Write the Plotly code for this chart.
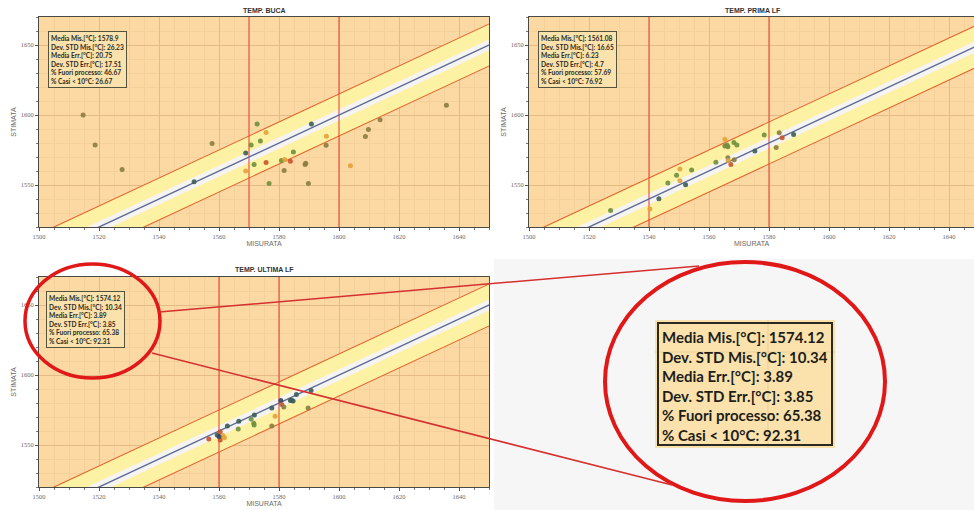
import plotly.graph_objects as go

W, H = 974, 510

# ---------------- data ----------------
X_RANGE = [1500, 1650]
Y_RANGE = [1520, 1670]
LINE_X = [1480, 1690]
BAND_INNER = 4
BAND_OUTER = 15

TITLES = ["TEMP. BUCA", "TEMP. PRIMA LF", "TEMP. ULTIMA LF"]
X_TICKS = [1500, 1520, 1540, 1560, 1580, 1600, 1620, 1640]
Y_TICKS = [1550, 1600, 1650]

PALETTE = {
    "T": "#3c5e55",  # dark teal
    "G": "#6e8f3c",  # green
    "O": "#8a7c40",  # olive-brown
    "Y": "#e3a23a",  # orange
    "R": "#c9532b",  # red-brown
    "N": "#2f475c",  # navy
}

buca_mis = [1514.7, 1518.7, 1527.7, 1551.7, 1557.7, 1568.9, 1568.9, 1570.7, 1572.7, 1571.7,
            1573.8, 1575.7, 1575.7, 1576.7, 1580.8, 1581.7, 1581.9, 1583.8, 1584.8, 1588.7,
            1589.8, 1590.8, 1595.8, 1595.7, 1603.8, 1608.8, 1609.8, 1613.7, 1635.8, 1588.9]
buca_sti = [1600.0, 1578.6, 1561.0, 1552.4, 1579.6, 1572.8, 1560.0, 1578.6, 1593.5, 1564.7,
            1581.5, 1587.5, 1566.0, 1551.0, 1567.5, 1560.3, 1568.3, 1567.0, 1573.6, 1564.7,
            1551.0, 1593.5, 1584.9, 1578.4, 1563.7, 1584.6, 1589.7, 1596.6, 1607.0, 1565.5]
buca_col = ["O", "O", "O", "T", "O", "T", "Y", "G", "G", "G",
            "G", "Y", "R", "G", "G", "O", "Y", "R", "G", "O",
            "O", "T", "Y", "O", "Y", "O", "O", "O", "O", "O"]

prima_mis = [1527.2, 1540.3, 1543.3, 1546.3, 1549.2, 1550.3, 1550.3, 1552.2, 1554.2, 1562.3,
             1565.3, 1565.3, 1566.3, 1566.3, 1566.4, 1567.3, 1568.4, 1568.3, 1569.3, 1575.3,
             1578.4, 1582.4, 1583.4, 1584.4, 1588.2, 1566.0]
prima_sti = [1531.7, 1532.9, 1540.1, 1551.4, 1557.0, 1561.5, 1553.1, 1550.2, 1560.8, 1566.3,
             1582.7, 1577.9, 1577.4, 1569.5, 1567.5, 1564.7, 1568.0, 1580.3, 1578.6, 1574.3,
             1585.8, 1576.7, 1587.3, 1583.7, 1586.0, 1578.5]
prima_col = ["G", "Y", "T", "G", "G", "Y", "Y", "T", "G", "G",
             "Y", "O", "G", "O", "Y", "R", "O", "G", "G", "T",
             "G", "O", "O", "R", "T", "G"]

ultima_mis = [1556.6, 1559.4, 1560.4, 1560.4, 1561.3, 1562.8, 1566.4, 1566.6, 1570.7, 1571.6,
              1571.7, 1571.8, 1577.6, 1577.6, 1578.7, 1580.6, 1580.9, 1581.6, 1583.8, 1584.7,
              1585.8, 1590.7, 1589.7, 1560.0, 1561.8, 1584.2]
ultima_sti = [1554.3, 1557.1, 1559.5, 1553.6, 1556.7, 1563.6, 1561.4, 1566.9, 1568.6, 1565.5,
              1564.3, 1571.4, 1576.4, 1563.6, 1570.5, 1581.7, 1579.0, 1577.1, 1581.7, 1581.4,
              1586.0, 1589.0, 1576.4, 1556.0, 1555.2, 1582.0]
ultima_col = ["R", "T", "R", "R", "Y", "T", "G", "T", "G", "G",
              "G", "T", "T", "O", "Y", "N", "R", "O", "T", "T",
              "T", "T", "O", "N", "Y", "T"]

VLINES = [[1570, 1600], [1540, 1580], [1560, 1580]]

STATS = [
    ["Media Mis.[°C]: 1578.9", "Dev. STD Mis.[°C]: 26.23", "Media Err.[°C]: 20.75",
     "Dev. STD Err.[°C]: 17.51", "% Fuori processo: 46.67", "% Casi &lt; 10°C: 26.67"],
    ["Media Mis.[°C]: 1561.08", "Dev. STD Mis.[°C]: 16.65", "Media Err.[°C]: 6.23",
     "Dev. STD Err.[°C]: 4.7", "% Fuori processo: 57.69", "% Casi &lt; 10°C: 76.92"],
    ["Media Mis.[°C]: 1574.12", "Dev. STD Mis.[°C]: 10.34", "Media Err.[°C]: 3.89",
     "Dev. STD Err.[°C]: 3.85", "% Fuori processo: 65.38", "% Casi &lt; 10°C: 92.31"],
]

SERIES = [(buca_mis, buca_sti, buca_col), (prima_mis, prima_sti, prima_col),
          (ultima_mis, ultima_sti, ultima_col)]


# ---------------- layout helpers ----------------
def px(x):
    return x / W


def py(y):
    return 1 - y / H


# plot areas in pixels: (left, right, top, bottom)
AREAS = [(39, 489, 17, 227), (529, 974, 17, 227), (39, 489, 277, 487)]

fig = go.Figure()

BG = "#fcd9a2"
YELLOW = "#fdf1a4"
WHITE = "#f6f4f1"
RED_DIAG = "#e3652f"
RED_V = "#e8473a"
BLUE = "#5c6a98"

for i, (mis, sti, col) in enumerate(SERIES):
    xa = "x" if i == 0 else f"x{i+1}"
    ya = "y" if i == 0 else f"y{i+1}"
    common = dict(xaxis=xa, yaxis=ya, showlegend=False, hoverinfo="skip")
    # outer yellow band
    fig.add_trace(go.Scatter(x=LINE_X, y=[v + BAND_OUTER for v in LINE_X], mode="lines",
                             line=dict(width=0), **common))
    fig.add_trace(go.Scatter(x=LINE_X, y=[v - BAND_OUTER for v in LINE_X], mode="lines",
                             line=dict(width=0), fill="tonexty", fillcolor=YELLOW, **common))
    # inner white band
    fig.add_trace(go.Scatter(x=LINE_X, y=[v + BAND_INNER for v in LINE_X], mode="lines",
                             line=dict(width=0), **common))
    fig.add_trace(go.Scatter(x=LINE_X, y=[v - BAND_INNER for v in LINE_X], mode="lines",
                             line=dict(width=0), fill="tonexty", fillcolor=WHITE, **common))
    # red diagonal limits
    for off in (BAND_OUTER, -BAND_OUTER):
        fig.add_trace(go.Scatter(x=LINE_X, y=[v + off for v in LINE_X], mode="lines",
                                 line=dict(width=1.1, color=RED_DIAG), **common))
    # vertical red lines
    for v in VLINES[i]:
        fig.add_trace(go.Scatter(x=[v, v], y=[Y_RANGE[0] - 10, Y_RANGE[1] + 10], mode="lines",
                                 line=dict(width=1.1, color=RED_V), **common))
    # identity line
    fig.add_trace(go.Scatter(x=LINE_X, y=LINE_X, mode="lines",
                             line=dict(width=1.4, color=BLUE), **common))
    # points
    fig.add_trace(go.Scatter(x=mis, y=sti, mode="markers",
                             marker=dict(size=5, color=[PALETTE[c] for c in col], opacity=0.9,
                                         line=dict(width=0)), **common))

axis_common = dict(
    showline=True, linecolor="#4a4a44", linewidth=1, mirror=True, automargin=False,
    ticks="outside", ticklen=3, tickcolor="#555", tickwidth=1,
    tickfont=dict(family="Liberation Serif", size=6.5, color="#6a6a6a"),
    showgrid=True, gridcolor="#e4bb85", gridwidth=1, zeroline=False,
)

for i, (l, r, t, b) in enumerate(AREAS):
    xk = "xaxis" if i == 0 else f"xaxis{i+1}"
    yk = "yaxis" if i == 0 else f"yaxis{i+1}"
    ya = "y" if i == 0 else f"y{i+1}"
    xa = "x" if i == 0 else f"x{i+1}"
    xr = [X_RANGE[0], X_RANGE[0] + (r - l) / 3.0]
    fig.update_layout(**{
        xk: dict(domain=[px(l), px(r)], range=xr, anchor=ya, tickvals=X_TICKS,
                 minor=dict(dtick=5, tick0=1500, ticks="outside", ticklen=2, tickcolor="#777",
                            showgrid=True, gridcolor="#f4d09a", gridwidth=1),
                 title=dict(text="MISURATA", standoff=2,
                            font=dict(family="Liberation Sans", size=7, color="#6a6a6a")),
                 **axis_common),
        yk: dict(domain=[py(b), py(t)], range=Y_RANGE, anchor=xa, tickvals=Y_TICKS,
                 minor=dict(dtick=10, tick0=1520, ticks="outside", ticklen=2, tickcolor="#777",
                            showgrid=True, gridcolor="#f4d09a", gridwidth=1),
                 title=dict(text="STIMATA", standoff=3,
                            font=dict(family="Liberation Sans", size=7, color="#6a6a6a")),
                 **axis_common),
    })

shapes = []
annotations = []

# grey background of the magnified area
shapes.append(dict(type="rect", xref="paper", yref="paper", x0=px(494), x1=px(974),
                   y0=py(510), y1=py(259), fillcolor="#f6f6f6", line=dict(width=0),
                   layer="below"))

# panel titles
TITLE_POS = [(264, 10), (753, 10), (264, 269)]
for i, (x, y) in enumerate(TITLE_POS):
    annotations.append(dict(text=f"<b>{TITLES[i]}</b>", x=px(x), y=py(y), xref="paper",
                            yref="paper", showarrow=False, xanchor="center", yanchor="middle",
                            font=dict(family="Liberation Sans", size=7, color="#333")))

# small stats boxes
BOX_POS = [(48, 31), (538, 31), (46, 291)]
for i, (x, y) in enumerate(BOX_POS):
    annotations.append(dict(text="<b>" + "<br>".join(STATS[i]) + "</b>", x=px(x), y=py(y),
                            xref="paper", yref="paper", showarrow=False, xanchor="left",
                            yanchor="top", align="left", bgcolor="#fbe2ad",
                            bordercolor="#54543e", borderwidth=1, borderpad=2,
                            font=dict(family="Lato", size=6.6, color="#2a2a20")))

# magnified stats box
shapes.append(dict(type="rect", xref="paper", yref="paper", x0=px(655), x1=px(835),
                   y0=py(448), y1=py(320), fillcolor="#fbe2ad", line=dict(width=0)))
shapes.append(dict(type="line", xref="paper", yref="paper", x0=px(768), x1=px(768),
                   y0=py(448), y1=py(320), line=dict(color="#e8cc96", width=1)))
shapes.append(dict(type="line", xref="paper", yref="paper", x0=px(655), x1=px(835),
                   y0=py(352), y1=py(352), line=dict(color="#e8cc96", width=1)))
shapes.append(dict(type="rect", xref="paper", yref="paper", x0=px(658), x1=px(832),
                   y0=py(445), y1=py(323), line=dict(color="#2a2a22", width=2)))
annotations.append(dict(text="<b>" + "<br>".join(STATS[2]) + "</b>", x=px(660), y=py(326),
                        xref="paper", yref="paper", showarrow=False, xanchor="left",
                        yanchor="top", align="left",
                        font=dict(family="Lato", size=15, color="#1e1e18")))

# zoom ellipses and connectors
shapes.append(dict(type="circle", xref="paper", yref="paper", x0=px(25), x1=px(160),
                   y0=py(378), y1=py(264), line=dict(color="#e01818", width=3.5)))
shapes.append(dict(type="circle", xref="paper", yref="paper", x0=px(605), x1=px(885),
                   y0=py(501), y1=py(262), line=dict(color="#e01818", width=4)))
shapes.append(dict(type="line", xref="paper", yref="paper", x0=px(159), x1=px(699),
                   y0=py(312), y1=py(266), line=dict(color="#d43030", width=1.5)))
shapes.append(dict(type="line", xref="paper", yref="paper", x0=px(152), x1=px(672),
                   y0=py(353), y1=py(485), line=dict(color="#d43030", width=1.5)))

fig.update_layout(
    width=W, height=H, margin=dict(l=0, r=0, t=0, b=0),
    paper_bgcolor="white", plot_bgcolor=BG,
    shapes=shapes, annotations=annotations, showlegend=False,
)

fig.write_html("out.html")
